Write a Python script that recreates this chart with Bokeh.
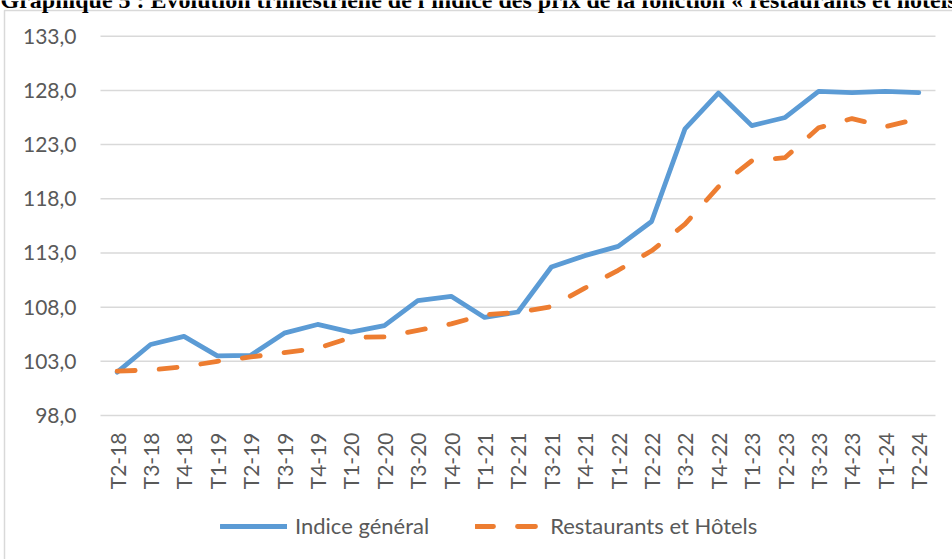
import math
from bokeh.plotting import figure
from bokeh.models import (Range1d, FixedTicker, CustomJSTickFormatter,
                          Legend, LegendItem, Label, BoxAnnotation)
from bokeh.embed import file_html
from bokeh.resources import INLINE

categories = ["T2-18", "T3-18", "T4-18", "T1-19", "T2-19", "T3-19", "T4-19",
              "T1-20", "T2-20", "T3-20", "T4-20", "T1-21", "T2-21", "T3-21",
              "T4-21", "T1-22", "T2-22", "T3-22", "T4-22", "T1-23", "T2-23",
              "T3-23", "T4-23", "T1-24", "T2-24"]

indice_general = [102.0, 104.55, 105.3, 103.5, 103.55, 105.6, 106.4, 105.7,
                  106.3, 108.6, 109.0, 107.05, 107.55, 111.7, 112.75, 113.6,
                  115.9, 124.45, 127.75, 124.75, 125.5, 127.9, 127.8, 127.9, 127.8]

restaurants_hotels = [102.1, 102.2, 102.5, 103.0, 103.4, 103.8, 104.2, 105.2,
                      105.25, 105.85, 106.45, 107.3, 107.5, 108.05, 109.75, 111.4,
                      113.2, 115.65, 119.1, 121.5, 121.8, 124.55, 125.4, 124.65, 125.4]

y_ticks = [98, 103, 108, 113, 118, 123, 128, 133]

series_names = ["Indice général", "Restaurants et Hôtels"]
title_text = ("Graphique 5 : Evolution trimestrielle de l'indice des prix "
              "de la fonction « restaurants et hôtels »")

BLUE = "#5B9BD5"
ORANGE = "#ED7D31"
GRID = "#D9D9D9"
TXT = "#595959"
FONT = "Lato"

W, H = 952, 559
positions = list(range(len(categories)))  # one slot per quarter
first, last = positions[0] - 0.5, positions[-1] + 0.5

p = figure(width=W, height=H, output_backend="svg", toolbar_location=None,
           x_range=Range1d(-3.494, 25.01),
           y_range=Range1d(84.712, 136.294),
           min_border_left=0, min_border_right=0, min_border_top=0,
           min_border_bottom=0)
p.outline_line_color = None
p.background_fill_color = "white"
p.border_fill_color = "white"
p.xgrid.grid_line_color = None
p.ygrid.grid_line_color = None

# horizontal grid lines, spanning the category slots only
p.segment(x0=[first] * len(y_ticks), x1=[last] * len(y_ticks),
          y0=y_ticks, y1=y_ticks, line_color=GRID, line_width=1.5)

# y axis, fixed at the left edge of the category area
p.yaxis.fixed_location = first
p.yaxis.ticker = FixedTicker(ticks=y_ticks)
p.yaxis.formatter = CustomJSTickFormatter(code="return tick.toFixed(1).replace('.', ',');")
p.yaxis.axis_line_color = None
p.yaxis.major_tick_line_color = None
p.yaxis.minor_tick_line_color = None
p.yaxis.major_tick_out = 0
p.yaxis.major_tick_in = 0
p.yaxis.major_label_standoff = 24
p.yaxis.major_label_text_font = FONT
p.yaxis.major_label_text_font_size = "21px"
p.yaxis.major_label_text_color = TXT

# x axis, fixed on the lowest grid line
p.xaxis.fixed_location = y_ticks[0]
p.xaxis.ticker = FixedTicker(ticks=positions)
p.xaxis.formatter = CustomJSTickFormatter(args=dict(labels=categories),
                                          code="return labels[Math.round(tick)] || '';")
p.xaxis.axis_line_color = None
p.xaxis.major_tick_line_color = None
p.xaxis.minor_tick_line_color = None
p.xaxis.major_tick_out = 0
p.xaxis.major_tick_in = 0
p.xaxis.major_label_orientation = math.pi / 2
p.xaxis.major_label_standoff = 17
p.xaxis.major_label_text_font = FONT
p.xaxis.major_label_text_font_size = "21px"
p.xaxis.major_label_text_color = TXT

r1 = p.line(positions, indice_general, line_color=BLUE, line_width=4.8,
            line_join="round", line_cap="round")
r2 = p.line(positions, restaurants_hotels, line_color=ORANGE, line_width=4.8,
            line_dash="18 24", line_join="round", line_cap="round")

legend = Legend(items=[LegendItem(label=series_names[0], renderers=[r1]),
                       LegendItem(label=series_names[1], renderers=[r2])],
                orientation="horizontal", location=(220, 20),
                glyph_width=67, glyph_height=20, label_standoff=8, spacing=46,
                padding=0, margin=0, border_line_color=None,
                background_fill_alpha=0,
                label_text_font=FONT, label_text_font_size="22px",
                label_text_color=TXT)
p.add_layout(legend, "center")

# outer chart frame (only its top-left corner is inside the crop)
p.add_layout(BoxAnnotation(left=4, right=W + 6, top=10, bottom=H + 6,
                           left_units="canvas", right_units="canvas",
                           top_units="canvas", bottom_units="canvas",
                           fill_color=None, fill_alpha=0,
                           line_color=GRID, line_width=1.5, line_alpha=1))

# document title, cropped at the top edge (only its lower part shows)
p.add_layout(Label(x=0, y=H + 1, x_units="screen", y_units="screen",
                   text=title_text, text_font="Liberation Serif",
                   text_font_style="bold", text_font_size="24px",
                   text_color="black", text_baseline="alphabetic"))

open("out.html", "w").write(file_html(p, INLINE))
